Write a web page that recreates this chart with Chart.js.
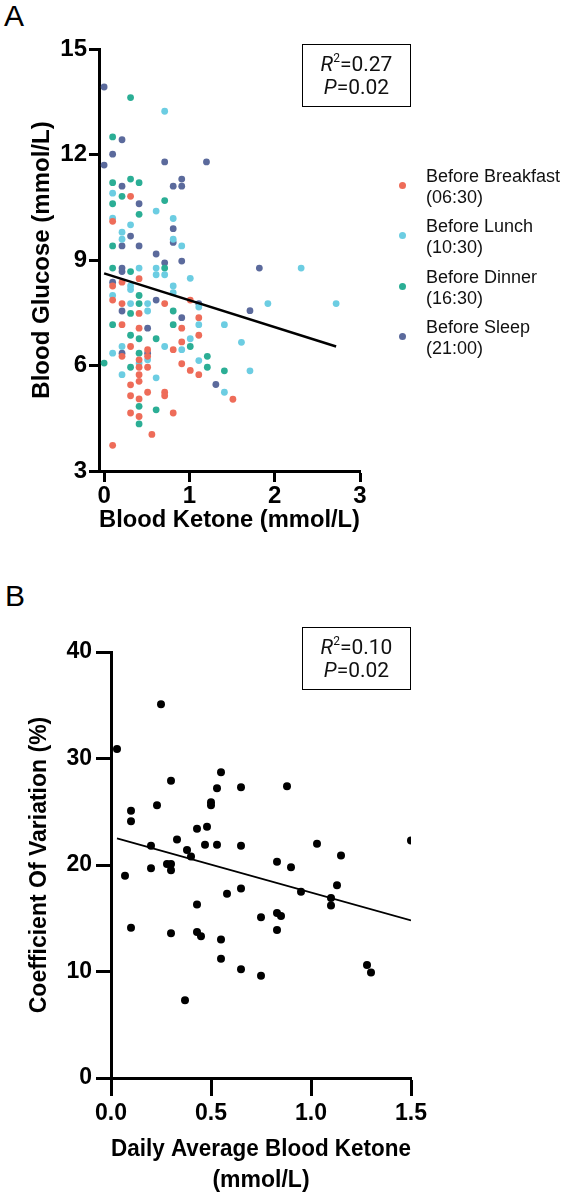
<!DOCTYPE html>
<html>
<head>
<meta charset="utf-8">
<script src="https://cdn.jsdelivr.net/npm/chart.js@4.4.1/dist/chart.umd.min.js"></script>
<style>
  body { margin: 0; background: #fff; }
  #page { position: relative; width: 566px; height: 1198px; font-family: "Liberation Sans", Arial, sans-serif; }
  canvas { position: absolute; left: 0; }
  .letter { position: absolute; font-size: 30px; line-height: 30px; color: #000; }
  .stats { position: absolute; left: 302px; width: 109px; height: 63px; box-sizing: border-box; border: 1.5px solid #000;
           text-align: center; font-family: Roboto, sans-serif; font-size: 21px; line-height: 23px; padding-top: 8px; color: #111; }
  .stats sup { font-size: 12px; line-height: 0; vertical-align: 9px; }
  .legend-item { position: absolute; left: 426px; font-size: 18px; line-height: 21px; color: #111; }
  .legend-dot { position: absolute; left: 399px; width: 7px; height: 7px; border-radius: 50%; }
</style>
</head>
<body>
<div id="page">
  <div class="letter" style="left:4px;top:1px;">A</div>
  <canvas id="chartA" width="566" height="560" style="top:0;"></canvas>
  <div class="stats" style="top:44px;"><i>R</i><sup>2</sup>=0.27<br><i>P</i>=0.02</div>
  <div id="legendA"></div>

  <div class="letter" style="left:5px;top:581px;">B</div>
  <canvas id="chartB" width="566" height="618" style="top:580px;"></canvas>
  <div class="stats" style="top:627px;"><i>R</i><sup>2</sup>=0.10<br><i>P</i>=0.02</div>
</div>
<script>
'use strict';
// panel A: [ketone, glucose]
let breakfast = [[0.31,10.81],[0.10,10.1],[0.10,8.26],[0.21,8.37],[0.41,8.47],[0.10,7.86],[0.21,7.76],[0.71,7.76],[1.01,7.86],[0.41,7.48],
  [1.11,7.36],[0.21,7.16],[0.41,7.06],[0.91,7.06],[1.11,6.86],[0.91,6.67],[0.31,6.54],[0.81,6.45],[0.51,6.45],[0.21,6.26],
  [0.51,6.26],[0.41,6.16],[0.41,5.95],[0.51,5.95],[0.91,6.05],[1.01,5.86],[1.11,5.74],[0.41,5.74],[0.41,5.55],[0.31,5.45],
  [0.71,5.24],[0.71,5.14],[0.51,5.24],[0.31,5.14],[0.41,5.05],[0.31,4.65],[0.41,4.55],[0.81,4.65],[0.56,4.04],[0.10,3.73],[1.51,5.04]];
let lunch = [[0.71,13.23],[0.10,10.9],[0.61,10.39],[0.10,10.19],[0.31,10.0],[0.81,10.18],[0.21,9.79],[0.21,9.59],[0.81,9.59],[0.91,9.4],
  [0.41,8.77],[0.61,8.77],[0.71,8.58],[0.61,8.58],[1.01,8.48],[0.31,8.26],[0.31,8.16],[0.81,8.26],[0.81,8.07],[0.10,7.99],
  [0.31,7.76],[0.51,7.76],[1.11,7.66],[0.51,7.55],[1.11,7.16],[1.01,6.76],[0.21,6.54],[0.71,6.54],[0.91,6.45],[0.10,6.35],
  [0.51,6.16],[0.41,6.07],[1.11,6.14],[0.21,5.74],[0.61,5.65],[2.31,8.77],[1.92,7.76],[2.72,7.76],[1.41,7.16],[1.61,6.66],[1.71,5.85],[1.41,5.24]];
let dinner = [[0.31,13.62],[0.10,12.5],[0.10,11.2],[0.31,11.3],[0.41,11.2],[0.21,10.81],[0.10,10.6],[0.71,10.69],[0.41,10.3],[0.10,9.4],
  [0.10,8.77],[0.31,8.67],[0.71,8.77],[0.41,7.99],[0.41,7.76],[0.31,7.48],[0.81,7.55],[0.10,7.16],[0.81,7.16],[0.31,6.86],
  [0.41,6.76],[0.61,6.76],[1.01,6.54],[0.41,6.35],[1.21,6.26],[0.0,6.07],[0.31,5.95],[1.21,5.95],[0.41,4.84],[0.61,4.74],[0.41,4.34],[1.41,5.85]];
let sleep = [[0,13.92],[0.21,12.42],[0.10,12.01],[0,11.7],[0.71,11.79],[1.20,11.79],[0.21,11.1],[0.81,11.1],[0.91,11.3],[0.91,11.1],
  [0.41,10.6],[0.31,9.68],[0.81,9.89],[0.21,9.4],[0.41,9.4],[0.81,9.5],[0.61,9.17],[0.71,8.92],[0.91,8.97],[0.21,8.77],
  [0.21,8.67],[0.10,8.37],[0.61,7.86],[1.11,7.76],[0.21,7.55],[0.91,7.36],[0.51,7.06],[0.21,6.35],[0.51,6.35],[1.31,5.46],[1.82,8.77],[1.71,7.56]];
let fitA = [[0,8.62],[2.72,6.54]];
let seriesNames = [['Before Breakfast','(06:30)'],['Before Lunch','(10:30)'],['Before Dinner','(16:30)'],['Before Sleep','(21:00)']];
let seriesColors = ['#ee6c59','#6ccde2','#2bae95','#5b6a9c'];
let ticksAX = [0,1,2,3];

// panel B: [daily avg ketone, CV %]
let cvPoints = [[0.25,35.1],[0.03,30.9],[0.55,28.7],[0.30,27.9],[0.53,27.2],[0.65,27.3],[0.50,25.9],[0.50,25.6],[0.23,25.6],[0.10,25.1],
  [0.10,24.1],[0.43,23.4],[0.48,23.6],[0.20,21.8],[0.33,22.4],[0.47,21.9],[0.53,21.9],[0.65,21.8],[0.38,21.4],[0.40,20.8],
  [0.20,19.7],[0.28,20.1],[0.30,20.1],[0.30,19.5],[0.07,19.0],[0.65,17.8],[0.58,17.3],[0.43,16.3],[0.88,27.4],[1.50,22.3],
  [1.03,22.0],[1.15,20.9],[0.83,20.3],[0.90,19.8],[1.13,18.1],[0.95,17.5],[1.10,16.9],[1.10,16.2],[0.75,15.1],[0.83,15.5],
  [0.85,15.2],[0.10,14.1],[0.30,13.6],[0.43,13.7],[0.45,13.3],[0.55,13.0],[0.83,13.9],[0.55,11.2],[0.65,10.2],[0.75,9.6],
  [1.28,10.6],[1.30,9.9],[0.37,7.3]];
let fitB = [[0.03,22.5],[1.5,14.8]];

function toXY(arr){
  return arr.map(p => ({x: p[0], y: p[1]}));
}

// html legend for panel A
let legendA = document.getElementById('legendA');
for (let i = 0; i < seriesNames.length; i++) {
  let item = document.createElement('div');
  item.className = 'legend-item';
  item.style.top = (165.5 + 50.5 * i) + 'px';
  item.innerHTML = seriesNames[i][0] + '<br>' + seriesNames[i][1];
  legendA.appendChild(item);
  let dot = document.createElement('div');
  dot.className = 'legend-dot';
  dot.style.top = (181.5 + 50.5 * i) + 'px';
  dot.style.background = seriesColors[i];
  legendA.appendChild(dot);
}

function axisStyle(tickLen){
  return {
    grid: { display: true, drawOnChartArea: false, drawTicks: true, tickLength: tickLen, tickWidth: 3, tickColor: '#000' },
    border: { display: true, width: 3, color: '#000' }
  };
}

let allA = [breakfast, lunch, dinner, sleep];
let datasetsA = [{
  type: 'line',
  data: toXY(fitA),
  borderColor: '#000',
  borderWidth: 2.5,
  pointRadius: 0
}];
for (let i = 0; i < allA.length; i++) {
  datasetsA.push({
    type: 'scatter',
    label: seriesNames[i].join(' '),
    data: toXY(allA[i]),
    backgroundColor: seriesColors[i],
    pointRadius: 3.4,
    pointBorderWidth: 0
  });
}

let chartA = new Chart(document.getElementById('chartA'), {
  type: 'scatter',
  data: { datasets: datasetsA },
  options: {
    responsive: false,
    animation: false,
    devicePixelRatio: 1,
    layout: { padding: { left: 0, top: 49, right: 206, bottom: 0 } },
    plugins: { legend: { display: false }, tooltip: { enabled: false } },
    scales: {
      x: Object.assign(axisStyle(11), {
        type: 'linear', min: -0.06, max: 3,
        afterBuildTicks: axis => { axis.ticks = ticksAX.map(v => ({value: v})); },
        afterFit: axis => { axis.height = 89; },
        ticks: { color: '#000', padding: 0, font: { family: 'Liberation Sans', size: 24, weight: 'bold' } },
        title: { display: true, text: 'Blood Ketone (mmol/L)', color: '#000', padding: { top: 0, bottom: 25 },
                 font: { family: 'Liberation Sans', size: 24, weight: 'bold' } }
      }),
      y: Object.assign(axisStyle(10), {
        type: 'linear', min: 3, max: 15,
        afterFit: axis => { axis.width = 99; },
        ticks: { stepSize: 3, color: '#000', padding: 2, font: { family: 'Liberation Sans', size: 24, weight: 'bold' } },
        title: { display: true, text: 'Blood Glucose (mmol/L)', color: '#000', padding: { top: 28, bottom: 0 },
                 font: { family: 'Liberation Sans', size: 24, weight: 'bold' } }
      })
    }
  }
});

let chartB = new Chart(document.getElementById('chartB'), {
  type: 'scatter',
  data: {
    datasets: [{
      type: 'line',
      data: toXY(fitB),
      borderColor: '#000',
      borderWidth: 1.8,
      pointRadius: 0
    }, {
      type: 'scatter',
      data: toXY(cvPoints),
      backgroundColor: '#000',
      pointRadius: 4,
      pointBorderWidth: 0
    }]
  },
  options: {
    responsive: false,
    animation: false,
    devicePixelRatio: 1,
    layout: { padding: { left: 0, top: 72, right: 155, bottom: 0 } },
    plugins: { legend: { display: false }, tooltip: { enabled: false } },
    scales: {
      x: Object.assign(axisStyle(18), {
        type: 'linear', min: 0, max: 1.5,
        afterFit: axis => { axis.height = 120; },
        ticks: { stepSize: 0.5, color: '#000', padding: 4, callback: v => v.toFixed(1),
                 font: { family: 'Liberation Sans', size: 23, weight: 'bold' } },
        title: { display: true, text: ['Daily Average Blood Ketone', '(mmol/L)'], color: '#000', padding: { top: 0, bottom: 1.5 },
                 font: { family: 'Liberation Sans', size: 23, weight: 'bold', lineHeight: 1.35 } }
      }),
      y: Object.assign(axisStyle(15), {
        type: 'linear', min: 0, max: 40,
        afterFit: axis => { axis.width = 111; },
        ticks: { stepSize: 10, color: '#000', padding: 4, font: { family: 'Liberation Sans', size: 23, weight: 'bold' } },
        title: { display: true, text: 'Coefficient Of Variation (%)', color: '#000', padding: { top: 26, bottom: 0 },
                 font: { family: 'Liberation Sans', size: 23, weight: 'bold' } }
      })
    }
  }
});
</script>
</body>
</html>
